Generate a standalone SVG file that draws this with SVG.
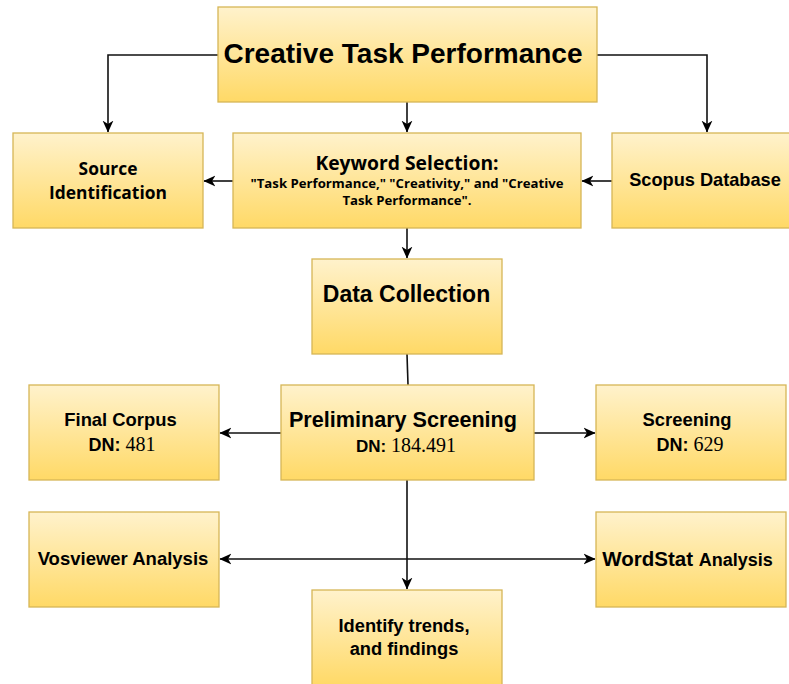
<svg xmlns="http://www.w3.org/2000/svg" width="789" height="684" viewBox="0 0 789 684">
<defs>
<linearGradient id="g" x1="0" y1="0" x2="0" y2="1">
<stop offset="0" stop-color="#fff2cc"/>
<stop offset="1" stop-color="#ffd966"/>
</linearGradient>
<marker id="arr" viewBox="0 0 10 10" refX="9.5" refY="5" markerWidth="12" markerHeight="12" markerUnits="userSpaceOnUse" orient="auto-start-reverse">
<path d="M0,0.5 L10,5 L0,9.5 L2.8,5 Z" fill="#000"/>
</marker>
<style>
.box{fill:url(#g);stroke:#d6b656;stroke-width:1.3}
.t{font-family:"Liberation Sans",Arial,sans-serif;font-weight:bold;fill:#000;text-anchor:middle}
.s{font-family:"Open Sans","Noto Sans",sans-serif;font-weight:bold;fill:#000;text-anchor:middle}
.n{font-family:"Liberation Serif","Times New Roman",serif;font-weight:normal}
.c{fill:none;stroke:#111;stroke-width:1.6}
.a{marker-end:url(#arr)}
.b{marker-start:url(#arr);marker-end:url(#arr)}
</style>
</defs>
<g id="connectors">
<path class="c a" d="M218,55 H108 V132"/>
<path class="c a" d="M597,55 H707 V132"/>
<path class="c a" d="M407,102 V132"/>
<path class="c a" d="M233,181 H204"/>
<path class="c a" d="M612,181 H582"/>
<path class="c a" d="M407,228 V258"/>
<path class="c" d="M407,354 L408,385"/>
<path class="c a" d="M281,433 H220"/>
<path class="c a" d="M534,433 H595"/>
<path class="c a" d="M407,480 V589"/>
<path class="c b" d="M220,559 H595"/>
</g>
<g id="creative-task-performance">
<rect class="box" x="218" y="7" width="379" height="95"/>
<text class="t" x="403" y="63" font-size="28">Creative Task Performance</text>
</g>
<g id="source-identification">
<rect class="box" x="13" y="133" width="190" height="95"/>
<text class="s" x="108" y="175" font-size="17.4">Source</text>
<text class="s" x="108" y="199" font-size="17.4">Identification</text>
</g>
<g id="keyword-selection">
<rect class="box" x="233" y="133" width="348" height="95"/>
<text class="s" x="407" y="170" font-size="19.3">Keyword Selection:</text>
<text class="s" x="407" y="188" font-size="13.2">"Task Performance," "Creativity," and "Creative</text>
<text class="s" x="407" y="205" font-size="13.2">Task Performance".</text>
</g>
<g id="scopus-database">
<rect class="box" x="612" y="133" width="180" height="95"/>
<text class="t" x="705" y="186" font-size="18.2">Scopus Database</text>
</g>
<g id="data-collection">
<rect class="box" x="312" y="259" width="190" height="95"/>
<text class="t" x="406.5" y="302" font-size="23">Data Collection</text>
</g>
<g id="preliminary-screening">
<rect class="box" x="281" y="385" width="253" height="95"/>
<text class="t" x="403" y="427" font-size="21.6">Preliminary Screening</text>
<text class="t" x="406" y="452" font-size="17">DN: <tspan class="n" font-size="20">184.491</tspan></text>
</g>
<g id="final-corpus">
<rect class="box" x="29" y="385" width="190" height="95"/>
<text class="t" x="120.5" y="426" font-size="18.4">Final Corpus</text>
<text class="t" x="122" y="451" font-size="18">DN: <tspan class="n" font-size="20">481</tspan></text>
</g>
<g id="screening">
<rect class="box" x="596" y="385" width="190" height="95"/>
<text class="t" x="687" y="426" font-size="18.4">Screening</text>
<text class="t" x="690" y="451" font-size="18">DN: <tspan class="n" font-size="20">629</tspan></text>
</g>
<g id="vosviewer-analysis">
<rect class="box" x="29" y="512" width="190" height="95"/>
<text class="t" x="123" y="565" font-size="18.5">Vosviewer Analysis</text>
</g>
<g id="wordstat-analysis">
<rect class="box" x="596" y="512" width="190" height="95"/>
<text class="t" x="687.5" y="566" font-size="20.5">WordStat <tspan font-size="18">Analysis</tspan></text>
</g>
<g id="identify-trends">
<rect class="box" x="312" y="590" width="190" height="96"/>
<text class="t" x="404" y="632" font-size="18.3">Identify trends,</text>
<text class="t" x="404" y="655" font-size="18.3">and findings</text>
</g>
</svg>
